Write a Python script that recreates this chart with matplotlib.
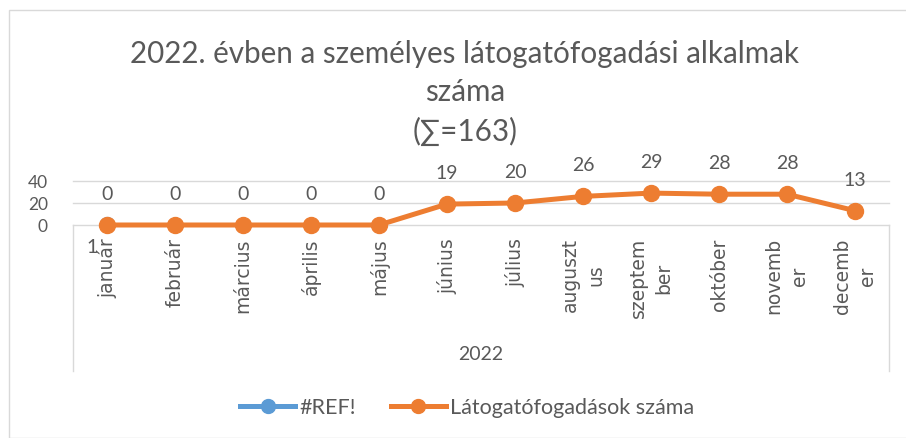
import matplotlib
matplotlib.use("Agg")
import matplotlib.pyplot as plt
from matplotlib.lines import Line2D
from matplotlib.patches import Rectangle
import numpy as np

plt.rcParams['font.family'] = ['Lato', 'DejaVu Sans']

months = ["január", "február", "március", "április", "május", "június",
          "július", "auguszt\nus", "szeptem\nber", "október", "novemb\ner", "decemb\ner"]
visits = [0, 0, 0, 0, 0, 19, 20, 26, 29, 28, 28, 13]
ref_values = [1] + [np.nan] * 11
group_label = "2022"
yticks = [0, 20, 40]
title = "2022. évben a személyes látogatófogadási alkalmak\nszáma\n(∑=163)"
series_names = ["#REF!", "Látogatófogadások száma"]

ORANGE = "#ED7D31"
BLUE = "#5B9BD5"
TXT = "#595959"
GRID = "#D9D9D9"

W, H = 906, 438
fig = plt.figure(figsize=(W / 100, H / 100), dpi=100)

# outer chart border
fig.patches.append(Rectangle((9 / W, 0), (W - 9) / W + 0.01, (H - 10) / H,
                             transform=fig.transFigure, fill=False,
                             edgecolor=GRID, linewidth=1.0))

x0, x1 = 73, 889
y_top, y_bot = 181, 225
ax = fig.add_axes([x0 / W, 1 - y_bot / H, (x1 - x0) / W, (y_bot - y_top) / H])
x = np.arange(len(months))
ax.set_xlim(-0.5, len(months) - 0.5)
ax.set_ylim(0, 40)
ax.set_yticks(yticks)
ax.set_yticklabels([str(v) for v in yticks], fontsize=12.5, color=TXT)
ax.tick_params(axis='y', length=0, pad=18)
ax.set_xticks([])
for s in ax.spines.values():
    s.set_visible(False)
for v in yticks:
    ax.axhline(v, color=GRID, linewidth=1.0, zorder=0, clip_on=False)

ax.plot(x, ref_values, color=BLUE, linewidth=3.6, marker='o', markersize=10,
        solid_capstyle='round', clip_on=False, zorder=2)
ax.plot(x, visits, color=ORANGE, linewidth=3.6, marker='o', markersize=11.5,
        solid_capstyle='round', clip_on=False, zorder=5)

for xi, v in zip(x, visits):
    ax.annotate(str(v), (xi, v), xytext=(0, 22), textcoords='offset points',
                ha='center', va='center', fontsize=14, color=TXT, annotation_clip=False)
for xi, v in zip(x, ref_values):
    if not np.isnan(v):
        ax.annotate(str(int(v)), (xi, v), xytext=(-11, -17), textcoords='offset points',
                    ha='center', va='center', fontsize=14, color=TXT, annotation_clip=False)

# category labels
for xi, lab in zip(x, months):
    ax.annotate(lab, (xi, 0), xytext=(0, -9.5), textcoords='offset points',
                rotation=90, ha='center', va='top', multialignment='center',
                fontsize=13.5, color=TXT, annotation_clip=False, linespacing=1.45,
                family=['DejaVu Sans'])

# multi-level axis box lines
for xp in (x0, x1):
    fig.add_artist(Line2D([xp / W, xp / W], [1 - 225 / H, 1 - 371 / H],
                          transform=fig.transFigure, color=GRID, linewidth=1.0))
fig.text((x0 + x1) / 2 / W, 1 - 355 / H, group_label, ha='center', va='center',
         fontsize=14, color=TXT)

fig.text(465 / W, 1 - 93 / H, title, ha='center', va='center', fontsize=21.3,
         color=TXT, linespacing=1.45)

handles = [Line2D([], [], color=BLUE, linewidth=3.6, marker='o', markersize=10),
           Line2D([], [], color=ORANGE, linewidth=3.6, marker='o', markersize=10)]
fig.legend(handles, series_names, loc='center', bbox_to_anchor=(467 / W, 1 - 408 / H),
           ncol=2, frameon=False, fontsize=15.5, labelcolor=TXT, handlelength=2.55,
           handletextpad=0.19, columnspacing=1.63)

fig.savefig("out.png", dpi=100)
